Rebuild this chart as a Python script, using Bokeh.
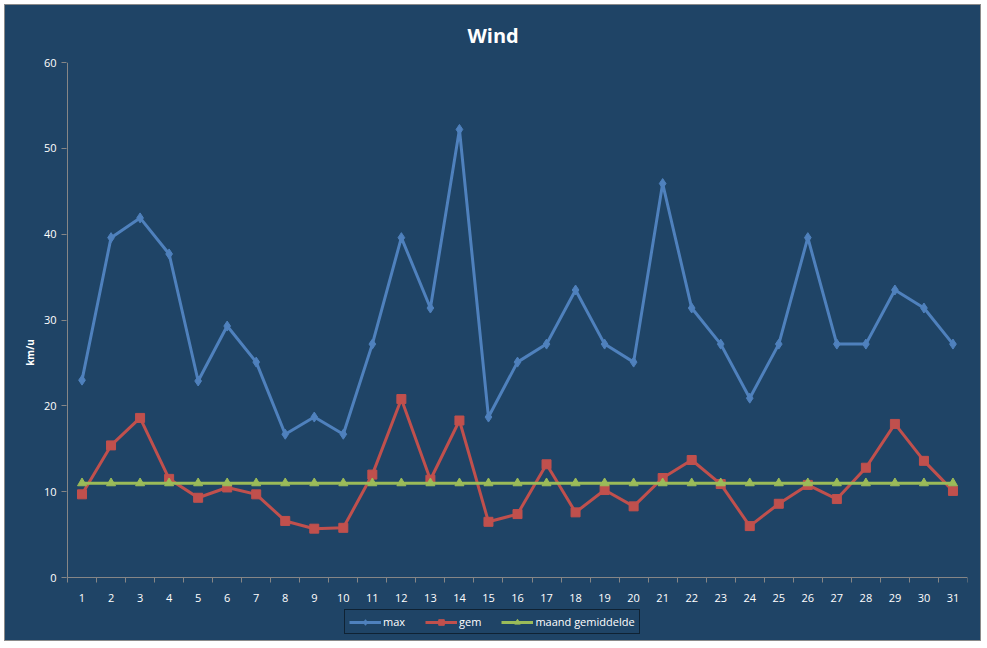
from bokeh.plotting import figure
from bokeh.models import FixedTicker, Legend, LegendItem, Range1d
from bokeh.embed import file_html
from bokeh.resources import INLINE

days = list(range(1, 32))
max_wind = [23.0, 39.6, 41.9, 37.7, 22.9, 29.3, 25.1, 16.7, 18.7, 16.7,
            27.2, 39.6, 31.4, 52.2, 18.7, 25.1, 27.2, 33.5, 27.2, 25.1,
            45.9, 31.4, 27.2, 20.9, 27.2, 39.6, 27.2, 27.2, 33.5, 31.4, 27.2]
gem_wind = [9.7, 15.4, 18.6, 11.5, 9.3, 10.5, 9.7, 6.6, 5.7, 5.8,
            12.0, 20.8, 11.4, 18.3, 6.5, 7.4, 13.2, 7.6, 10.2, 8.3,
            11.6, 13.7, 10.9, 6.0, 8.6, 10.8, 9.15, 12.8, 17.9, 13.6, 10.1]
maand_gem = [11.0] * 31
y_ticks = [0, 10, 20, 30, 40, 50, 60]

BG = "#1F4466"
AXIS = "#868686"
FONT = "Open Sans"

W, H = 977, 637
LEFT, TOP, RIGHT = 62, 56, 15
ZERO = 572
PX_PER_UNIT = (ZERO - TOP) / 60.0
y_low = -(H - ZERO) / PX_PER_UNIT
px_x = (W - LEFT - RIGHT) / 31.0
x_low = 0.5 - 1.0 / px_x

p = figure(width=W, height=H, output_backend="svg", toolbar_location=None,
           x_range=Range1d(x_low, 31.5), y_range=Range1d(y_low, 60),
           min_border_left=LEFT - 1, min_border_right=RIGHT, min_border_top=TOP,
           min_border_bottom=0)
p.background_fill_color = None
p.border_fill_color = None
p.outline_line_color = None
p.grid.visible = False
p.styles = {"border": "1px solid #8a8a8a", "margin": "4px 0 0 4px",
            "background-color": BG}

p.title.text = "Wind"
p.title.align = "left"
p.title.offset = 401
p.title.text_color = "white"
p.title.text_font = FONT
p.title.text_font_size = "20px"
p.title.text_font_style = "bold"
p.title.standoff = 28

# x axis (drawn at y = 0 inside the frame)
xa = p.xaxis[0]
xa.fixed_location = 0
xa.ticker = FixedTicker(ticks=days, minor_ticks=[d - 0.5 for d in days] + [31.5])
xa.major_tick_line_color = None
xa.major_tick_out = 0
xa.major_tick_in = 0
xa.minor_tick_line_color = AXIS
xa.minor_tick_out = 5
xa.minor_tick_in = 0
xa.axis_line_color = AXIS
xa.axis_line_width = 1
xa.major_label_text_color = "white"
xa.major_label_text_font = FONT
xa.major_label_text_font_size = "11px"
xa.major_label_standoff = 11

# y axis (line drawn separately so it stops at 0)
ya = p.yaxis[0]
ya.ticker = FixedTicker(ticks=y_ticks, minor_ticks=[])
ya.major_tick_line_color = AXIS
ya.major_tick_out = 5
ya.major_tick_in = 0
ya.minor_tick_line_color = None
ya.axis_line_color = None
ya.major_label_text_color = "white"
ya.major_label_text_font = FONT
ya.major_label_text_font_size = "11px"
ya.major_label_standoff = 5
ya.axis_label = "km/u"
ya.axis_label_text_color = "white"
ya.axis_label_text_font = FONT
ya.axis_label_text_font_size = "10px"
ya.axis_label_text_font_style = "bold"
ya.axis_label_standoff = 4

p.segment(x0=[0.5], y0=[min(y_ticks)], x1=[0.5], y1=[max(y_ticks)],
          line_color=AXIS, line_width=1)

BLUE = "#4F81BD"
RED = "#C0504D"
GREEN = "#9BBB59"

l1 = p.line(days, max_wind, line_color=BLUE, line_width=3)
m1 = p.scatter(days, max_wind, marker="diamond", size=10, fill_color=BLUE, line_color=BLUE)
l2 = p.line(days, gem_wind, line_color=RED, line_width=3)
m2 = p.scatter(days, gem_wind, marker="square", size=9, fill_color=RED, line_color=RED)
l3 = p.line(days, maand_gem, line_color=GREEN, line_width=3)
m3 = p.scatter(days, maand_gem, marker="triangle", size=9, fill_color=GREEN, line_color=GREEN)

legend = Legend(items=[
    LegendItem(label="max", renderers=[l1, m1]),
    LegendItem(label="gem", renderers=[l2, m2]),
    LegendItem(label="maand gemiddelde", renderers=[l3, m3]),
], orientation="horizontal", location=(278, 8))
legend.background_fill_alpha = 0
legend.border_line_color = "black"
legend.border_line_width = 1
legend.label_text_color = "white"
legend.label_text_font = FONT
legend.label_text_font_size = "11px"
legend.glyph_width = 32
legend.glyph_height = 14
legend.label_standoff = 2
legend.spacing = 20
legend.padding = 4
legend.margin = 0
p.add_layout(legend, "center")

open("out.html", "w").write(file_html(p, INLINE))
